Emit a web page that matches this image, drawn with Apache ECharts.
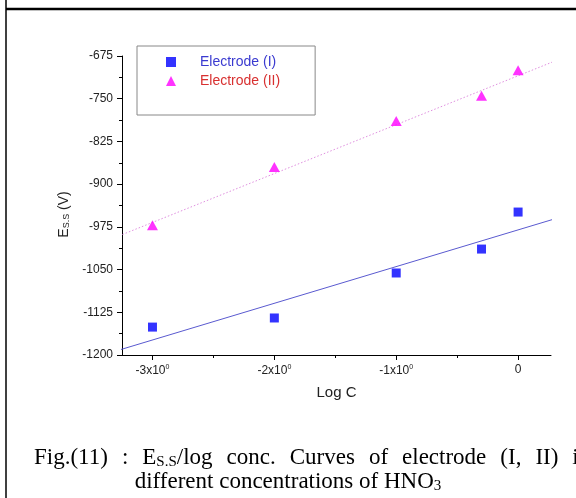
<!DOCTYPE html>
<html><head><meta charset="utf-8">
<script src="https://cdn.jsdelivr.net/npm/echarts@6/dist/echarts.min.js"></script>
<style>html,body{margin:0;padding:0;background:#fff}#c{width:576px;height:498px}</style>
</head><body><div id="c"></div>
<script>
const logC = [-3, -2, -1, -0.3, 0];
const electrodeI = [-1151, -1135, -1056, -1014, -949];
const electrodeII = [-972, -870, -789, -745, -700];
const fitX = [-3.3, 0.3];
const fitI = [-1193, -961];
const fitII = [-993, -684];
const xMajorTicks = [-3, -2, -1, 0];
const xMinorTicks = [-2.5, -1.5, -0.5];
const xTickLabels = ['-3x10', '-2x10', '-1x10', '0'];
const seriesNames = ['Electrode (I)', 'Electrode (II)'];
const captionLine1 = ['Fig.(11)', ':', 'E|S.S|/log', 'conc.', 'Curves', 'of', 'electrode', '(I,', 'II)', 'in'];
const captionLine2 = 'different concentrations of HNO';

const chart = echarts.init(document.getElementById('c'), null, {renderer: 'canvas'});
const font = 'Liberation Sans, Arial, sans-serif';
const serif = 'Liberation Serif, Times New Roman, serif';
const pts = (xs, ys) => xs.map((x, i) => [x, ys[i]]);

// justified first caption line: words separated by fixed-width gaps
const line1 = captionLine1.map(w => {
  if (w.indexOf('|') >= 0) {
    const p = w.split('|');
    return '{a|' + p[0] + '}{b|' + p[1] + '}{a|' + p[2] + '}';
  }
  return '{a|' + w + '}';
}).join('{g| }');

chart.setOption({
  animation: false,
  backgroundColor: '#fff',
  grid: {left: 122, right: 25, top: 56, bottom: 143},
  legend: {
    orient: 'vertical', left: 137, top: 46,
    borderColor: '#888', borderWidth: 1,
    padding: [9, 35, 27, 29],
    itemGap: 5, itemWidth: 10, itemHeight: 10,
    textStyle: {fontFamily: font, fontSize: 14, padding: [0, 0, 0, 19]},
    data: [
      {name: seriesNames[0], textStyle: {color: '#3a3ad0'}},
      {name: seriesNames[1], textStyle: {color: '#d83030'}}
    ]
  },
  xAxis: [{
    type: 'value', min: -3.25, max: 0.27,
    name: 'Log C', nameLocation: 'middle', nameGap: 30,
    nameTextStyle: {fontFamily: font, fontSize: 15, color: '#222'},
    axisLine: {onZero: false, lineStyle: {color: '#000', width: 1}},
    axisTick: {show: true, length: 5, customValues: xMajorTicks, lineStyle: {color: '#000'}},
    axisLabel: {
      customValues: xMajorTicks, margin: 9,
      formatter: v => {
        const i = xMajorTicks.indexOf(v);
        const t = xTickLabels[i];
        return t === '0' ? '{a|0}' : '{a|' + t + '}{s|0}';
      },
      rich: {
        a: {fontFamily: font, fontSize: 12, color: '#222'},
        s: {fontFamily: font, fontSize: 7, color: '#222', verticalAlign: 'top', padding: [0, 0, 7, 0]}
      }
    },
    splitLine: {show: false}
  }, {
    type: 'value', min: -3.25, max: 0.27, position: 'bottom',
    axisLine: {show: false, onZero: false},
    axisTick: {show: true, length: 3, customValues: xMinorTicks, lineStyle: {color: '#000'}},
    axisLabel: {show: false},
    splitLine: {show: false}
  }],
  yAxis: {
    type: 'value', min: -1200, max: -675, interval: 75,
    name: '{a|E}{b|S.S}{a| (V)}', nameLocation: 'middle', nameGap: 45,
    nameTextStyle: {
      padding: [0, 18, 0, 0],
      rich: {
        a: {fontFamily: font, fontSize: 14, color: '#222'},
        b: {fontFamily: font, fontSize: 9, color: '#222', verticalAlign: 'bottom', padding: [6, 0, 0, 0]}
      }
    },
    axisLine: {show: true, onZero: false, lineStyle: {color: '#000', width: 1}},
    axisTick: {show: true, length: 5, lineStyle: {color: '#000'}},
    minorTick: {show: true, splitNumber: 2, length: 3, lineStyle: {color: '#000'}},
    axisLabel: {fontFamily: font, fontSize: 12, color: '#222', margin: 9, formatter: v => String(v)},
    splitLine: {show: false}
  },
  series: [
    {
      name: 'fitI', type: 'line', data: pts(fitX, fitI), symbol: 'none', clip: false,
      lineStyle: {color: '#5a5ad0', width: 1}, silent: true, z: 1
    },
    {
      name: 'fitII', type: 'line', data: pts(fitX, fitII), symbol: 'none', clip: false,
      lineStyle: {color: '#e090e0', width: 1, type: [1.5, 2]}, silent: true, z: 1
    },
    {
      name: seriesNames[0], type: 'scatter', data: pts(logC, electrodeI),
      symbol: 'rect', symbolSize: 9, itemStyle: {color: '#0000ff'}, z: 3
    },
    {
      name: seriesNames[1], type: 'scatter', data: pts(logC, electrodeII),
      symbol: 'triangle', symbolSize: [11, 10], itemStyle: {color: '#ff00ff'}, z: 3
    }
  ],
  graphic: [
    {type: 'line', shape: {x1: 6, y1: 9, x2: 576, y2: 9}, style: {stroke: '#000', lineWidth: 2.5}},
    {type: 'line', shape: {x1: 6, y1: 0, x2: 6, y2: 498}, style: {stroke: '#000', lineWidth: 1.5}},
    {
      type: 'text', left: 34, top: 446,
      style: {
        text: line1,
        rich: {
          a: {fontFamily: serif, fontSize: 23, fill: '#000'},
          b: {fontFamily: serif, fontSize: 15, fill: '#000', verticalAlign: 'bottom', padding: [9, 0, 0, 0]},
          g: {fontFamily: serif, fontSize: 23, width: 14}
        }
      }
    },
    {
      type: 'text', left: 'center', top: 470,
      style: {
        text: '{a|' + captionLine2 + '}{b|3}',
        rich: {
          a: {fontFamily: serif, fontSize: 23, fill: '#000'},
          b: {fontFamily: serif, fontSize: 15, fill: '#000', verticalAlign: 'bottom', padding: [9, 0, 0, 0]}
        }
      }
    }
  ]
});
</script></body></html>
